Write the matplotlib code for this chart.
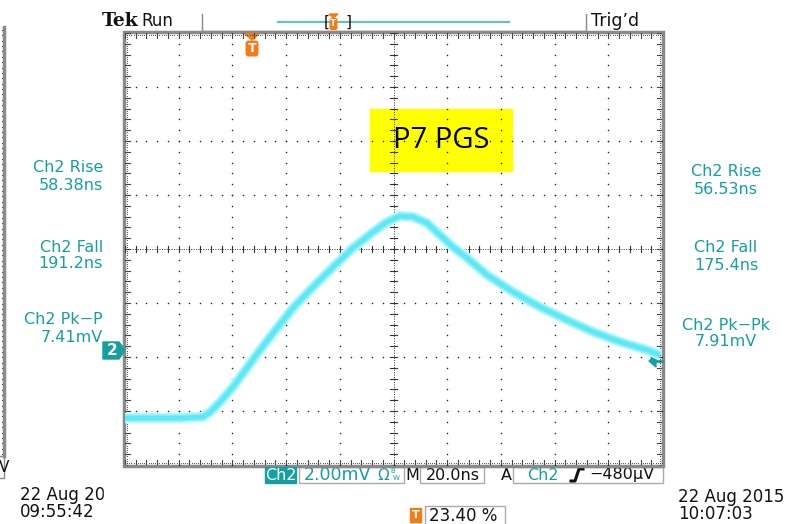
"""Tek scope screenshot: Ch2 pulse, P7 PGS."""
import numpy as np
import matplotlib.pyplot as plt
from matplotlib.patches import Rectangle, Polygon, FancyBboxPatch

# ---- data (time from left edge, volts vs. Ch2 ground) ----
t_ns = [0, 20.5, 29.1, 31.7, 35.4, 40.2, 45.4, 50.3, 56.6, 62.6, 70.0, 77.5,
        84.9, 92.4, 97.6, 102.4, 107.3, 112.5, 117.3, 122.2, 127.4, 134.8,
        144.5, 154.6, 164.6, 174.3, 184.4, 194.4, 199.3]
v_mv = [-2.52, -2.52, -2.48, -2.30, -1.93, -1.37, -0.67, 0.00, 0.81, 1.56,
        2.33, 3.07, 3.78, 4.37, 4.74, 4.96, 4.93, 4.70, 4.26, 3.81, 3.41, 2.78,
        2.15, 1.59, 1.11, 0.67, 0.30, 0.00, -0.19]

left_labels = ["Ch2 Rise", "58.38ns", "Ch2 Fall", "191.2ns", "Ch2 Pk\u2212P", "7.41mV"]
right_labels = ["Ch2 Rise", "56.53ns", "Ch2 Fall", "175.4ns", "Ch2 Pk\u2212Pk", "7.91mV"]

NS_DIV, MV_DIV = 20.0, 2.0
N_X, N_Y = 10, 8
GND_DIV = 2.13          # ground marker height above the bottom of the screen

TEAL = "#14a0a0"
ORANGE = "#f47b16"
GRAY = "#8a8a8a"

W, H = 799, 524
fig = plt.figure(figsize=(W / 100, H / 100), dpi=100)
ov = fig.add_axes([0, 0, 1, 1])
ov.set_xlim(0, W)
ov.set_ylim(H, 0)
ov.axis("off")

# graticule area in pixels
GX0, GX1, GY0, GY1 = 125, 662, 33, 465
g = fig.add_axes([GX0 / W, 1 - GY1 / H, (GX1 - GX0) / W, (GY1 - GY0) / H])
ymin = -GND_DIV * MV_DIV
ymax = ymin + N_Y * MV_DIV
xmax = N_X * NS_DIV
g.set_xlim(0, xmax)
g.set_ylim(ymin, ymax)
g.axis("off")

# dotted grid
xs_minor = np.arange(0, N_X * 5 + 1) * NS_DIV / 5
ys_minor = ymin + np.arange(0, N_Y * 5 + 1) * MV_DIV / 5
for k in range(1, N_X):
    g.scatter(np.full(ys_minor.size, k * NS_DIV), ys_minor, s=1.2, c="#222", lw=0)
for k in range(1, N_Y):
    g.scatter(xs_minor, np.full(xs_minor.size, ymin + k * MV_DIV), s=1.2, c="#222", lw=0)

# centre cross: dense dotted line with minor ticks
xc, yc = xmax / 2, ymin + N_Y * MV_DIV / 2
g.plot([0, xmax], [yc, yc], color="#333", lw=0.7, ls=(0, (1, 1.5)))
g.plot([xc, xc], [ymin, ymax], color="#333", lw=0.7, ls=(0, (1, 1.5)))
for x in xs_minor:
    g.plot([x, x], [yc - 0.12, yc + 0.12], color="#333", lw=0.8)
for y in ys_minor:
    g.plot([xc - 1.2, xc + 1.2], [y, y], color="#333", lw=0.8)

# border ticks
xs_fine = np.arange(0, N_X * 25 + 1) * NS_DIV / 25
ys_fine = ymin + np.arange(0, N_Y * 25 + 1) * MV_DIV / 25
g.scatter(xs_fine, np.full(xs_fine.size, ymin + 0.08), s=0.6, c="#444", lw=0)
g.scatter(xs_fine, np.full(xs_fine.size, ymax - 0.08), s=0.6, c="#444", lw=0)
g.scatter(np.full(ys_fine.size, 0.8), ys_fine, s=0.6, c="#444", lw=0)
g.scatter(np.full(ys_fine.size, xmax - 0.8), ys_fine, s=0.6, c="#444", lw=0)
for x in xs_minor:
    g.plot([x, x], [ymin, ymin + 0.2], color="#444", lw=0.8)
    g.plot([x, x], [ymax - 0.2, ymax], color="#444", lw=0.8)
for y in ys_minor:
    g.plot([0, 2.0], [y, y], color="#444", lw=0.8)
    g.plot([xmax - 2.0, xmax], [y, y], color="#444", lw=0.8)

# trace (fuzzy cyan band)
g.plot(t_ns, v_mv, color="#c4f8fc", lw=7.5, solid_joinstyle="round",
       solid_capstyle="butt", zorder=5)
g.plot(t_ns, v_mv, color="#8cf1f8", lw=5.5, solid_joinstyle="round",
       solid_capstyle="butt", zorder=6)
g.plot(t_ns, v_mv, color="#5ee8f4", lw=3.2, solid_joinstyle="round",
       solid_capstyle="butt", zorder=7)

# graticule frame
ov.add_patch(Rectangle((GX0 - 1, GY0 - 1), GX1 - GX0 + 2, GY1 - GY0 + 2,
                       fill=False, ec=GRAY, lw=2.5, zorder=10))

# left strip of a neighbouring screenshot
ov.plot([4, 4], [27, 456], color=GRAY, lw=2.5)
ov.scatter(np.full(80, 2), np.linspace(30, 454, 80), s=0.8, c="#333", lw=0)
ov.add_patch(Rectangle((-2, 456), 6, 22, fill=False, ec=GRAY, lw=1))
ov.text(-1, 467, "V", fontsize=11, va="center", ha="left", color="#111")

# top status bar
ov.text(102, 21, "Tek", family="DejaVu Serif", fontweight="bold", fontsize=13.5,
        va="center", ha="left", color="#111")
ov.text(141, 21, "Run", fontsize=12, va="center", ha="left", color="#111")
ov.plot([202, 202], [14, 31], color=GRAY, lw=1)
ov.plot([586, 586], [14, 31], color=GRAY, lw=1)
ov.plot([202, 586], [31, 31], color=GRAY, lw=1)
ov.text(591, 21, "Trig\u2019d", fontsize=12.5, va="center", ha="left", color="#111")
ov.plot([278, 509], [22, 22], color="#5cc4c4", lw=1.5)
ov.text(327, 22, "[", fontsize=11, va="center", ha="center", color="#111")
ov.text(349, 22, "]", fontsize=11, va="center", ha="center", color="#111")
ov.add_patch(Polygon([[329, 14], [338, 14], [333.5, 18]], color=ORANGE, zorder=11))
ov.add_patch(FancyBboxPatch((330, 18.5), 7, 11, boxstyle="round,pad=0.5,rounding_size=2",
                            fc=ORANGE, ec="none", zorder=11))
ov.text(333.5, 24, "T", fontsize=6.5, color="white", ha="center", va="center",
        zorder=12, fontweight="bold")

# trigger position marker
ov.add_patch(Polygon([[245, 34], [259, 34], [252, 40]], color=ORANGE, zorder=11))
ov.add_patch(FancyBboxPatch((246, 41), 12, 15, boxstyle="round,pad=0.5,rounding_size=3",
                            fc=ORANGE, ec="none", zorder=11))
ov.text(252, 48.5, "T", fontsize=9, color="white", ha="center", va="center",
        fontweight="bold", zorder=12)

# Ch2 ground marker and right-edge arrow
ov.add_patch(Polygon([[103, 342], [119, 342], [125, 350], [119, 359], [103, 359]],
                     color=TEAL, zorder=11))
ov.text(112, 350.5, "2", fontsize=11, color="white", ha="center", va="center",
        fontweight="bold", zorder=12)
ov.add_patch(Polygon([[649, 361], [656, 355], [656, 367]], color=TEAL, zorder=11))
ov.plot([655, 662], [361, 361], color=TEAL, lw=2, zorder=11)

# annotation box
ov.add_patch(Rectangle((370, 109), 142, 62, color="#ffff00", zorder=12))
ov.text(441, 141, "P7 PGS", family="Open Sans", fontsize=21, ha="center",
        va="center", color="black", zorder=13)

# measurements
for txt, y in zip(left_labels, [168, 186, 247, 264, 320, 337]):
    ov.text(103, y, txt, fontsize=11.5, color=TEAL, ha="right", va="center")
for txt, y in zip(right_labels, [172, 190, 248, 266, 325, 342]):
    ov.text(726, y, txt, fontsize=11.5, color=TEAL, ha="center", va="center")

# bottom status bar
ov.add_patch(Rectangle((265, 467), 31, 16, color=TEAL, zorder=11))
ov.text(280.5, 475, "Ch2", fontsize=11.5, color="white", ha="center", va="center",
        zorder=12)
ov.add_patch(Rectangle((299, 467), 105, 16, fill=False, ec="#aaa", lw=1))
ov.text(304, 475, "2.00mV", fontsize=12.5, color=TEAL, ha="left", va="center")
ov.text(377, 475, "\u03a9", fontsize=11, color=TEAL, ha="left", va="center")
ov.text(390, 471, "B", fontsize=5, color=TEAL, ha="left", va="center")
ov.text(393, 478, "W", fontsize=5, color=TEAL, ha="left", va="center")
ov.text(405, 475, "M", fontsize=11.5, color="#111", ha="left", va="center")
ov.add_patch(Rectangle((420, 467), 64, 16, fill=False, ec="#aaa", lw=1))
ov.text(426, 475, "20.0ns", fontsize=11.5, color="#111", ha="left", va="center")
ov.text(501, 475, "A", fontsize=11.5, color="#111", ha="left", va="center")
ov.add_patch(Rectangle((513, 467), 150, 16, fill=False, ec="#aaa", lw=1))
ov.text(527, 475, "Ch2", fontsize=11.5, color=TEAL, ha="left", va="center")
# rising-edge trigger slope glyph
ov.plot([571, 575, 579, 583], [481, 481, 469, 469], color="#111", lw=2.2,
        solid_joinstyle="round")
ov.text(589, 475, "\u2212480\u00b5V", fontsize=11.5, color="#111", ha="left", va="center")

ov.add_patch(Rectangle((410, 508), 11, 14, color=ORANGE, zorder=11))
ov.text(415.5, 515, "T", fontsize=8, color="white", ha="center", va="center",
        fontweight="bold", zorder=12)
ov.add_patch(Rectangle((425, 506), 80, 19, fill=False, ec="#aaa", lw=1))
ov.text(429, 516, "23.40 %", fontsize=12, color="#111", ha="left", va="center")

# timestamps
ov.text(20, 495, "22 Aug 2015", fontsize=12, color="#111", ha="left", va="center")
ov.add_patch(Rectangle((104, 484), 40, 20, color="white", zorder=5))
ov.text(20, 512, "09:55:42", fontsize=12, color="#111", ha="left", va="center")
ov.text(678, 497, "22 Aug 2015", fontsize=12, color="#111", ha="left", va="center")
ov.text(678, 514, "10:07:03", fontsize=12, color="#111", ha="left", va="center")

fig.savefig("out.png", dpi=100)
